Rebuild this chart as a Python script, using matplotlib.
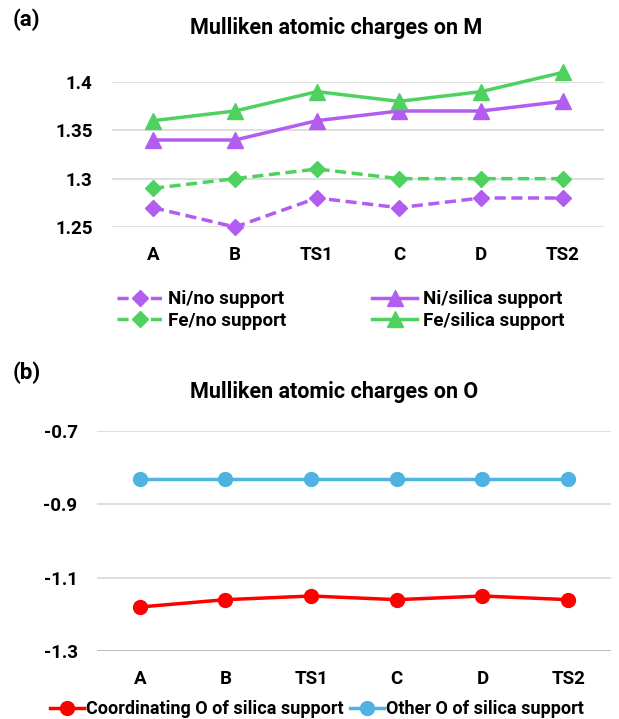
import matplotlib.pyplot as plt

# ------------------------------------------------------------------ DATA
categories = ['A', 'B', 'TS1', 'C', 'D', 'TS2']

ni_no_support = [1.27, 1.25, 1.28, 1.27, 1.28, 1.28]
ni_silica = [1.34, 1.34, 1.36, 1.37, 1.37, 1.38]
fe_no_support = [1.29, 1.30, 1.31, 1.30, 1.30, 1.30]
fe_silica = [1.36, 1.37, 1.39, 1.38, 1.39, 1.41]

o_coordinating = [-1.18, -1.16, -1.15, -1.16, -1.15, -1.16]
o_other = [-0.83, -0.83, -0.83, -0.83, -0.83, -0.83]

m_ticks = [1.25, 1.3, 1.35, 1.4]
m_ticklabels = ['1.25', '1.3', '1.35', '1.4']
o_ticks = [-1.3, -1.1, -0.9, -0.7]
o_ticklabels = ['-1.3', '-1.1', '-0.9', '-0.7']

# ------------------------------------------------------------------ STYLE
purple = '#b25cf0'
green = '#4fd160'
red = '#ff0000'
blue = '#4eb3e0'
grid_c = '#d9d9d9'

plt.rcParams['font.family'] = ['Roboto', 'DejaVu Sans']
plt.rcParams['font.weight'] = 'bold'

fig = plt.figure(figsize=(6.19, 7.19), dpi=100)
fig.patch.set_facecolor('white')

W, H = 619, 719


def px_axes(x0, x1, ytop, ybot):
    return fig.add_axes([x0 / W, 1 - ybot / H, (x1 - x0) / W, (ybot - ytop) / H])


def style_axes(ax, ticks, labels, axis_line):
    for s in ax.spines.values():
        s.set_visible(False)
    ax.set_xlim(-0.5, len(categories) - 0.5)
    ax.set_xticks(range(len(categories)))
    ax.set_xticklabels(categories, fontsize=13.5, fontweight='bold')
    ax.set_yticks(ticks)
    ax.set_yticklabels(labels, fontsize=13.5, fontweight='bold')
    ax.tick_params(length=0, pad=14)
    ax.tick_params(axis='x', pad=14)
    ax.grid(axis='y', color=grid_c, lw=1.2, zorder=0)
    ax.set_axisbelow(True)
    if axis_line:
        ax.axhline(ticks[0], color='#bfbfbf', lw=1.5, zorder=1)


x = list(range(len(categories)))

# -------------------------------------------------------------- (a) panel
ax1 = px_axes(112, 604, 82, 227)
style_axes(ax1, m_ticks, m_ticklabels, False)
ax1.set_ylim(1.25, 1.40)

dash = (3.2, 1.6)
l_ni_no, = ax1.plot(x, ni_no_support, color=purple, lw=2.5, ls=(0, dash),
                    marker='D', ms=8.5, clip_on=False, zorder=3)
l_ni_si, = ax1.plot(x, ni_silica, color=purple, lw=2.5,
                    marker='^', ms=11.5, clip_on=False, zorder=3)
l_fe_no, = ax1.plot(x, fe_no_support, color=green, lw=2.5, ls=(0, dash),
                    marker='D', ms=8.5, clip_on=False, zorder=3)
l_fe_si, = ax1.plot(x, fe_silica, color=green, lw=2.5,
                    marker='^', ms=11.5, clip_on=False, zorder=3)

fig.text(13 / W, 1 - 20 / H, '(a)', fontsize=16, fontweight='bold',
         ha='left', va='center')
fig.text(336 / W, 1 - 28 / H, 'Mulliken atomic charges on M', fontsize=15.5,
         fontweight='bold', ha='center', va='center')

leg1 = fig.legend([l_ni_no, l_fe_no, l_ni_si, l_fe_si],
                  ['Ni/no support', 'Fe/no support',
                   'Ni/silica support', 'Fe/silica support'],
                  ncol=2, loc='center left',
                  bbox_to_anchor=(117 / W, 1 - 310 / H),
                  frameon=False, fontsize=13.5, handlelength=2.4,
                  handletextpad=0.3, columnspacing=4.6, labelspacing=0.2,
                  borderpad=0, borderaxespad=0)

# -------------------------------------------------------------- (b) panel
ax2 = px_axes(97, 611, 431, 651)
style_axes(ax2, o_ticks, o_ticklabels, True)
ax2.set_ylim(-1.3, -0.7)

l_coord, = ax2.plot(x, o_coordinating, color=red, lw=2.5, marker='o',
                    ms=10, clip_on=False, zorder=3)
l_other, = ax2.plot(x, o_other, color=blue, lw=2.5, marker='o',
                    ms=10, clip_on=False, zorder=3)

fig.text(13 / W, 1 - 373 / H, '(b)', fontsize=16, fontweight='bold',
         ha='left', va='center')
fig.text(334 / W, 1 - 392 / H, 'Mulliken atomic charges on O', fontsize=15.5,
         fontweight='bold', ha='center', va='center')

leg2 = fig.legend([l_coord, l_other],
                  ['Coordinating O of silica support',
                   'Other O of silica support'],
                  ncol=2, loc='center left',
                  bbox_to_anchor=(50 / W, 1 - 709 / H),
                  frameon=False, fontsize=13, handlelength=1.9,
                  handletextpad=0.1, columnspacing=0.35,
                  borderpad=0, borderaxespad=0)

fig.savefig('out.png', dpi=100, facecolor='white')
